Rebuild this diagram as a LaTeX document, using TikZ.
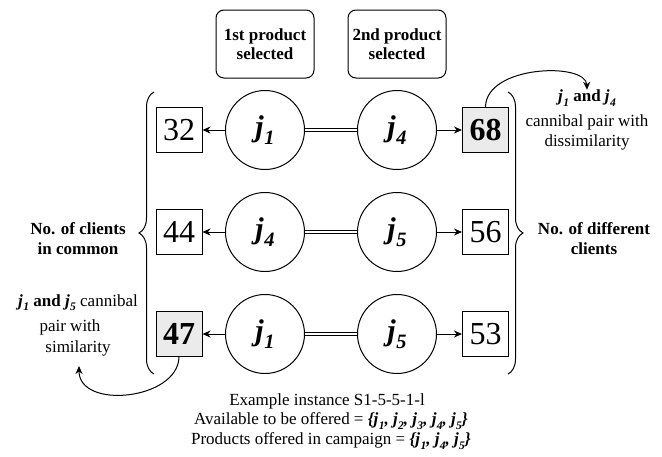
\documentclass[tikz,border=0pt]{standalone}
\usepackage{fontspec}
\setmainfont{Liberation Serif}
\usepackage{graphicx}
\usetikzlibrary{arrows.meta,decorations.pathreplacing}

% product symbol j with a bold italic subscript
\newcommand{\jx}[1]{\textbf{\textit{j}}\kern0.02em\raisebox{-0.25em}{\scalebox{0.68}{\textbf{\textit{#1}}}}}

\begin{document}
\begin{tikzpicture}[x=1pt,y=-1pt,
  txt/.style={font=\fontsize{17}{20}\selectfont, inner sep=0pt},
  btxt/.style={txt, font=\fontsize{17}{20}\selectfont\bfseries},
  selbox/.style={draw, line width=1pt, rounded corners=8pt, minimum width=98pt,
    minimum height=68pt, align=center, font=\fontsize{17}{19}\selectfont\bfseries},
  prod/.style={circle, draw, line width=1pt, minimum size=79pt, inner sep=0pt,
    font=\fontsize{30}{30}\selectfont},
  count/.style={draw, line width=1pt, minimum width=46pt, minimum height=45pt,
    inner sep=0pt, font=\fontsize{32}{32}\selectfont},
  hot/.style={count, fill=black!8, font=\fontsize{32}{32}\selectfont\bfseries},
  pairline/.style={double, double distance=2.6pt, line width=0.8pt},
  tip/.style={-{Stealth[length=8pt,width=7pt]}, line width=1pt},
  brc/.style={decorate, decoration={brace, amplitude=15pt}, line width=1pt}]

\useasboundingbox (0,0) rectangle (662,456);

% column headers
\node[selbox] (sel1) at (265,44) {1st product\\selected};
\node[selbox] (sel2) at (397,44) {2nd product\\selected};

% product pairs
\node[prod] (c11) at (265,130) {\jx{1}};
\node[prod] (c12) at (397,130) {\jx{4}};
\node[prod] (c21) at (265,232) {\jx{4}};
\node[prod] (c22) at (397,232) {\jx{5}};
\node[prod] (c31) at (265,334) {\jx{1}};
\node[prod] (c32) at (397,334) {\jx{5}};

% client counts
\node[count] (n11) at (179,130) {32};
\node[hot]   (n12) at (485.5,130) {68};
\node[count] (n21) at (179,232) {44};
\node[count] (n22) at (485.5,232) {56};
\node[hot]   (n31) at (179,334) {47};
\node[count] (n32) at (485.5,334) {53};

\foreach \r in {1,2,3}{
  \draw[pairline] (c\r1) -- (c\r2);
  \draw[tip] (c\r1) -- (n\r1);
  \draw[tip] (c\r2) -- (n\r2);
}

% braces grouping the counts
\draw[brc] (154,374) -- (154,92);
\draw[brc] (508,92) -- (508,374);

\node[btxt] (lc1) at (78,229) {No. of clients};
\node[btxt] (lc2) at (78,249) {in common};
\node[btxt] (rc1) at (594,229) {No. of different};
\node[btxt] (rc2) at (594,249) {clients};

% dissimilar cannibal pair
\node[btxt] (d1) at (587,98) {\jx{1} and \jx{4}};
\node[txt]  (d2) at (587,122) {cannibal pair with};
\node[txt]  (d3) at (587,142) {dissimilarity};
\draw[tip] (n12.north) .. controls (486,65) and (586,62) .. (d1.north);

% similar cannibal pair
\node[txt] (s1) at (78,303) {\textbf{\jx{1} and \jx{5}} cannibal};
\node[txt] (s2) at (70,327) {pair with};
\node[txt] (s3) at (78,348) {similarity};
\coordinate (stip) at (79,366);
\draw[tip] (n31.south) .. controls (178,400) and (79,410) .. (stip);

% instance description
\node[txt] (e1) at (327,401) {Example instance S1-5-5-1-l};
\node[txt] (e2) at (331,421) {Available to be offered = \textbf{\textit{\{\jx{1}, \jx{2}, \jx{3}, \jx{4}, \jx{5}\}}}};
\node[txt] (e3) at (331,441) {Products offered in campaign = \textbf{\textit{\{\jx{1}, \jx{4}, \jx{5}\}}}};
\end{tikzpicture}
\end{document}
